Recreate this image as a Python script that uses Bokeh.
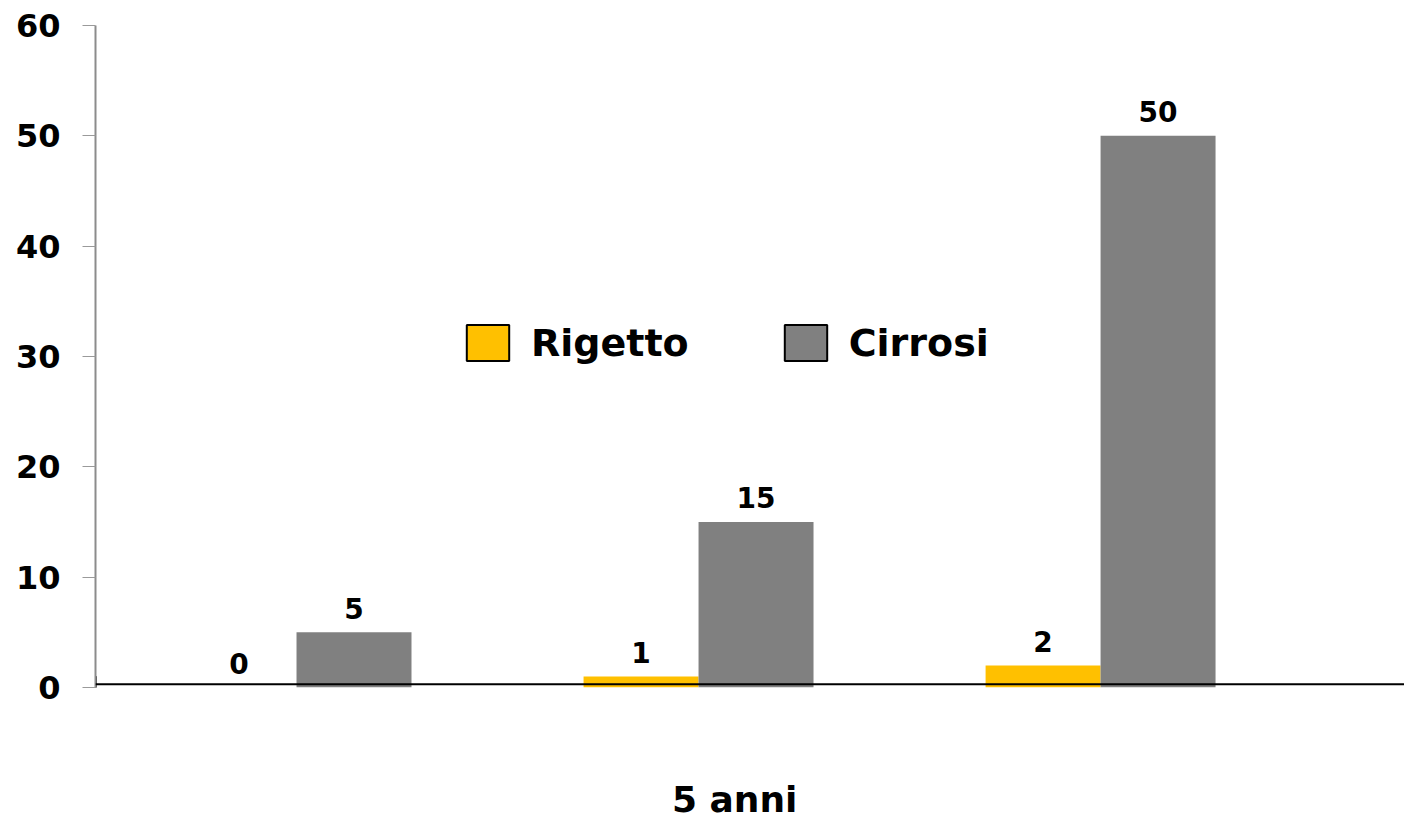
from bokeh.plotting import figure
from bokeh.models import ColumnDataSource, Legend, LegendItem, Span, Range1d, FixedTicker
from bokeh.core.properties import value
from bokeh.embed import file_html
from bokeh.resources import INLINE

# Data
groups = [0.5, 1.5, 2.5]
rigetto = [0, 1, 2]
cirrosi = [5, 15, 50]
y_ticks = [0, 10, 20, 30, 40, 50, 60]
series_names = ["Rigetto", "Cirrosi"]
colors = ["#FFC000", "#808080"]
x_title = "5 anni"
x_title_pos = 1.59

FONT = "DejaVu Sans"
bar_w = 0.286
label_gap = 2.2  # data units between a bar top and its value label anchor

p = figure(width=1404, height=822, output_backend="svg", toolbar_location=None,
           x_range=Range1d(0, 3.256), y_range=Range1d(0, 60),
           min_border_left=95, min_border_right=0, min_border_top=25, min_border_bottom=135)
p.outline_line_color = None
p.grid.visible = False
p.background_fill_color = "white"
p.border_fill_color = "white"

x_r = [g - bar_w / 2 for g in groups]
x_c = [g + bar_w / 2 for g in groups]
src = ColumnDataSource(dict(
    x_r=x_r, x_c=x_c, rig=rigetto, cir=cirrosi,
    rig_y=[v + label_gap for v in rigetto], cir_y=[v + label_gap for v in cirrosi],
    rig_t=[str(v) for v in rigetto], cir_t=[str(v) for v in cirrosi]))

p.vbar(x="x_r", top="rig", width=bar_w, bottom=0, source=src,
       fill_color=colors[0], line_color=None)
p.vbar(x="x_c", top="cir", width=bar_w, bottom=0, source=src,
       fill_color=colors[1], line_color=None)

# value labels above bars
for xcol, ycol, tcol in (("x_r", "rig_y", "rig_t"), ("x_c", "cir_y", "cir_t")):
    p.text(x=xcol, y=ycol, text=tcol, source=src, text_align="center",
           text_baseline="alphabetic", text_font=value(FONT),
           text_font_style="bold", text_font_size="28px", text_color="black")

# baseline
p.add_layout(Span(location=0.3, dimension="width", line_color="black", line_width=2))

# legend swatches (outlined boxes), kept outside the visible x range
sw = ColumnDataSource(dict(x=[-5], top=[1]))
lr = p.vbar(x="x", top="top", width=0.1, source=sw,
            fill_color=colors[0], line_color="black", line_width=2)
lc = p.vbar(x="x", top="top", width=0.1, source=sw,
            fill_color=colors[1], line_color="black", line_width=2)
legend = Legend(items=[LegendItem(label=series_names[0], renderers=[lr]),
                       LegendItem(label=series_names[1], renderers=[lc])],
                orientation="horizontal", location=(366, 322),
                glyph_width=53, glyph_height=45, label_standoff=17, spacing=90,
                padding=0, margin=0, border_line_color=None, background_fill_alpha=0,
                label_text_font=FONT, label_text_font_style="bold",
                label_text_font_size="38px", label_text_color="black")
p.add_layout(legend, "center")

# y axis
ya = p.yaxis[0]
ya.ticker = FixedTicker(ticks=y_ticks)
ya.axis_line_color = "#8c8c8c"
ya.axis_line_width = 2
ya.major_tick_line_color = "#9a9a9a"
ya.major_tick_line_width = 1
ya.major_tick_in = 0
ya.major_tick_out = 13
ya.minor_tick_line_color = None
ya.major_label_text_font = FONT
ya.major_label_text_font_style = "bold"
ya.major_label_text_font_size = "32px"
ya.major_label_text_color = "black"
ya.major_label_standoff = 22

# x axis: a single labelled position carrying the category title
xa = p.xaxis[0]
xa.ticker = FixedTicker(ticks=[x_title_pos])
xa.major_label_overrides = {x_title_pos: x_title}
xa.axis_line_color = None
xa.major_tick_line_color = None
xa.minor_tick_line_color = None
xa.major_tick_in = 0
xa.major_tick_out = 0
xa.major_label_text_font = FONT
xa.major_label_text_font_style = "bold"
xa.major_label_text_font_size = "36px"
xa.major_label_text_color = "black"
xa.major_label_standoff = 91

open("out.html", "w").write(file_html(p, INLINE))
